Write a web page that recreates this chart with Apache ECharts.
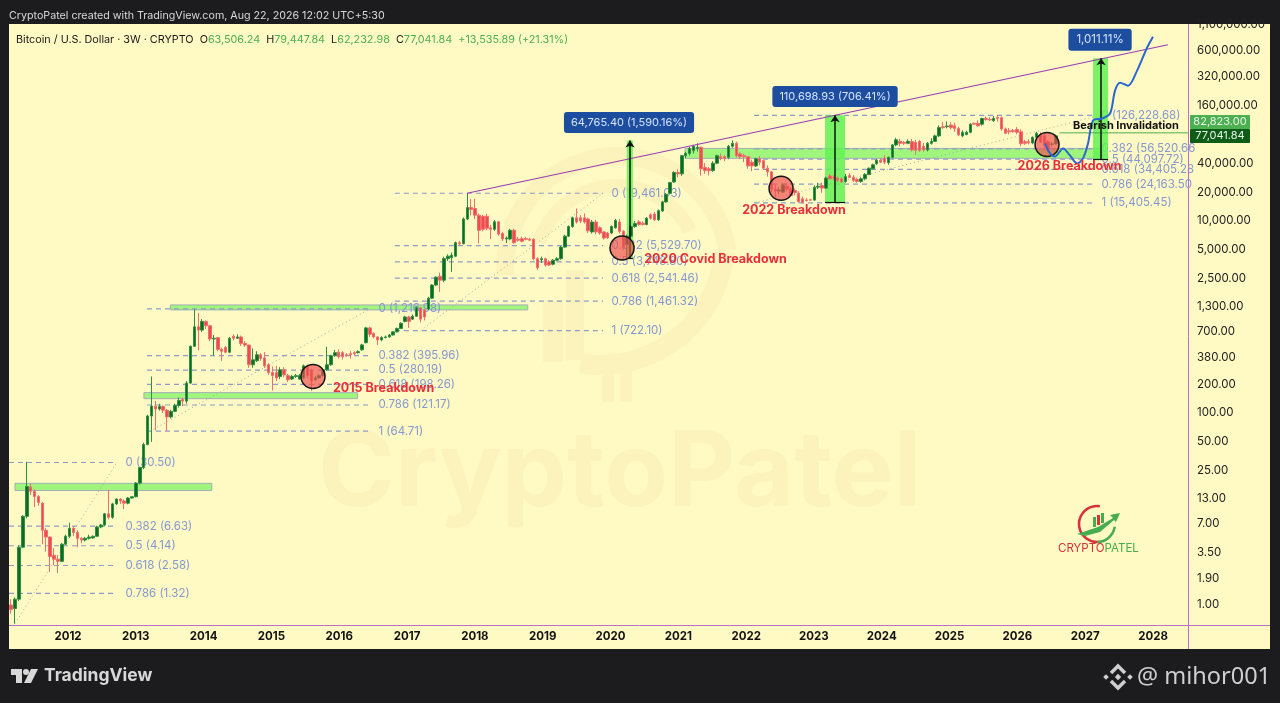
<!DOCTYPE html>
<html><head><meta charset="utf-8">
<style>html,body{margin:0;padding:0;background:#1c1c1e}#c{width:1280px;height:703px}</style>
<script src="https://cdn.jsdelivr.net/npm/echarts@6/dist/echarts.min.js"></script>
</head><body><div id="c"></div>
<script>
// Candles: [open, close, low, high], one row per 3-week bar
const candles2011_2013 = [
[1.0,.9,.81,1.15],[.92,1.15,.64,1.2],[1.15,4.0,1.1,4.2],[4.0,8.4,3.9,8.6],[8.4,17.2,8,31],[17,15.3,14,18.5],[15.3,13.5,10.5,16],[13.5,11.7,10.8,14],
[11.5,6.0,4.3,11.8],[6,5.1,3.6,6.3],[5.1,3.2,2.2,5.2],[3.3,3.0,2.6,3.9],[3.0,2.85,2.15,3.3],[2.85,4.3,2.8,4.4],[4.3,5.2,4.2,5.4],[5.2,6.3,5,7.2],
[6.3,5.7,5.2,6.6],[5.7,4.95,4.0,6],[4.95,4.75,4.4,5.1],[4.75,4.95,4.6,5.1],[4.95,5.1,4.8,5.4],[5.0,5.2,4.9,5.3],[5.2,6.5,5.1,6.7],[6.5,6.8,6.3,7],
[6.8,8.9,6.6,9.1],[8.9,8.2,7.8,15.8],[8.2,11.3,7.9,11.6],[11.3,12.7,11,12.9],[12.7,12.1,11.3,13],[12.1,11.5,10,12.6],[11.5,13,11.2,13.3],[13,13.4,12.8,13.6],
[13.4,18.6,13.2,19],[18.6,27,18,27.5],[27,47,26,49],[47,93,46,96],[93,118,50,240],[118,110,66,133],[110,117,106,125],[117,107,100,120],
[107,91,65,110],[91,104,88,108],[104,120,102,125],[120,135,114,145],[138,133,118,145],[133,205,125,215],[205,495,200,505],[495,790,490,1200]
];
const candles2014_2016 = [
[790,730,450,1100],[730,900,700,950],[900,810,750,920],[810,590,560,830],[590,600,395,650],[610,460,440,620],[460,440,350,480],[480,430,420,500],
[430,600,420,620],[630,600,570,660],[600,620,590,660],[620,530,500,640],[530,510,490,560],[510,318,296,515],[318,358,296,470],[350,404,340,440],
[404,370,350,420],[375,310,295,430],[318,264,250,330],[264,245,172,305],[264,232,215,310],[240,282,225,300],[282,250,235,300],[245,222,210,255],
[226,240,220,250],[240,245,232,255],[226,245,222,255],[232,310,225,320],[305,245,230,320],[275,215,170,290],[222,232,215,245],[232,245,228,255],
[245,282,240,290],[282,318,275,490],[318,395,310,405],[395,425,385,455],[430,385,370,460],[425,385,360,440],[404,395,385,420],[415,404,370,440],
[425,415,400,440],[425,435,415,450],[455,512,445,525],[540,770,530,790],[770,660,620,790],[675,620,600,690],[620,577,510,630],[577,610,560,630],
[610,620,600,640],[620,650,610,665],[650,700,640,715],[700,760,690,775]
];
const candles2017_2019 = [
[760,860,750,880],[900,1000,880,1030],[1000,900,770,1030],[950,1020,930,1060],[1020,1245,1000,1290],[1245,950,880,1280],[1183,1000,920,1210],[1210,1570,1180,1620],
[1570,2150,1550,2200],[2150,2600,2100,2650],[2650,2420,1830,2900],[2420,4050,2300,4250],[4050,4300,3850,4500],[4150,4400,2950,4700],[4300,5950,4200,6100],[5950,5800,5500,6200],
[5800,10500,5700,10900],[10500,13800,10200,19400],[13800,13200,11500,16900],[13500,11500,10500,17000],[11500,8000,5850,11900],[11200,8200,7800,11600],[11200,8400,8000,11900],[8500,8200,6500,9100],
[8200,9800,7900,10200],[9800,7300,7000,10000],[7400,6500,6200,7700],[6500,6650,5900,6900],[6500,8000,6300,8300],[8000,5950,5800,8300],[6450,6300,6100,6800],[6550,6150,6000,6900],
[6550,6450,6300,6800],[6450,6300,6200,6700],[6450,4050,3900,6600],[4050,3250,3100,4200],[3950,4050,3650,4250],[4050,3480,3350,4150],[3750,3480,3400,3900],[3550,3900,3450,4000],
[3900,4050,3800,4200],[4050,5350,3950,5500],[5350,6950,5250,7200],[6950,8750,6800,9000],[8750,10800,8500,11100],[10800,9750,9400,13500],[10800,10000,9500,11500],[10800,9750,9400,12000],
[10500,7900,7500,10800],[7700,9750,7400,10200],[9750,7700,7300,10300],[8500,7500,7200,8800],[7700,6650,6400,7800],[7500,6700,6500,7700]
];
const candles2020_2022 = [
[7500,8750,7300,9000],[8500,10100,8300,10500],[9750,7800,7400,10500],[7800,5300,4950,8000],[5700,6950,3980,7200],[6950,8750,6800,9000],[8750,9400,8500,10000],[9800,9200,8900,10200],
[9500,9200,9000,9900],[9200,10700,9000,11000],[11600,10700,10300,12000],[11800,10300,10000,12400],[10300,12800,10000,13200],[12700,15800,12400,16200],[15800,19000,15500,19500],[19400,25100,19000,25500],
[25500,32000,25000,33000],[32000,31000,28500,34500],[31000,47900,29500,48500],[47900,50500,45000,52500],[50500,57000,48000,59000],[54000,60000,50500,62000],[57000,58500,53000,64500],[58500,35000,29700,59500],
[36000,33500,31000,40000],[35000,33500,29800,36500],[33500,40000,32500,42000],[40000,47900,39000,49000],[46800,44700,43000,50500],[46800,44700,42000,48500],[46000,60000,44000,62000],[60000,64500,58000,69000],
[64500,47900,46000,67000],[50000,46800,44000,52000],[48000,46800,41000,50000],[46800,37500,35000,47500],[41000,37500,33000,43500],[37500,44500,36500,45500],[44500,41000,38000,47500],[42500,35500,34000,43500],
[35500,32500,29000,38000],[32500,21500,20000,33000],[21500,20500,17700,24000],[20500,21000,19000,22500],[20000,23700,19500,24500],[23000,21500,20500,25000],[21500,18400,18000,22500],[20800,19800,18500,21800],
[19500,15900,15500,20500],[17000,15500,15480,18000]
];
const candles2023_2026 = [
[16500,16300,15900,17300],[16600,16500,16300,17000],[16500,22500,16300,23500],[22500,23000,21500,25000],[23400,22000,19700,25200],[22000,28000,21500,29000],[29500,27500,27000,31000],[28500,28000,26500,30000],
[28000,26500,25500,29000],[27500,25500,24900,28500],[25800,29000,25000,31000],[29700,28500,28000,31500],[28500,26500,25500,30000],[27000,25800,25000,28000],[25800,27500,25000,28500],[27500,30500,26500,31500],
[30500,35500,30000,36000],[35000,38500,34500,39500],[39500,43000,38500,44500],[43000,41000,40000,45000],[44700,41000,39000,48500],[40500,46000,38500,47000],[46000,62000,45000,63000],[62000,70000,60000,73500],
[67500,64500,60000,72000],[66000,64500,62000,68000],[64500,67500,63000,71000],[67000,55000,53000,71500],[66000,54500,49000,70000],[67500,54500,52500,70000],[60000,55000,53000,65000],[55000,64500,53000,66500],
[64500,67500,62500,73000],[67500,77000,66500,79500],[77000,94000,75000,99000],[96000,94000,91000,108000],[96000,97500,92000,109000],[100000,94000,90000,107000],[98000,92000,85000,106000],[92000,79000,76500,96000],
[77000,84000,74500,88000],[79500,84000,78000,87000],[84000,102000,82000,104000],[104000,102000,100000,106000],[104000,98000,96000,112000],[102000,117000,98500,119000],[117000,114000,111000,123000],[114000,113000,110000,120000],
[111000,117000,108000,124000],[120000,117000,109000,126228],[119000,91000,87000,123000],[91000,82000,80500,94000],[87000,85000,80000,93000],[87500,85500,83000,91000],[90000,84000,80000,95000],[85000,64000,60000,90000],
[67000,64500,62000,70000],[67000,65500,62800,71000],[65000,74500,63000,76000],[74500,82000,72000,85000],[78000,66000,65000,84000],[78000,61000,58000,80000],[67000,54500,52000,70000],[63000,63506,60000,66000],
[63506.24,77041.84,62232.98,79447.84]
];
const lastBarYear = 2026.57, barYears = 3/52.18;
const yearTicks = [2012,2013,2014,2015,2016,2017,2018,2019,2020,2021,2022,2023,2024,2025,2026,2027,2028];
const priceTicks = [1,1.9,3.5,7,13,25,50,100,200,380,700,1300,2500,5000,10000,20000,40000,160000,320000,600000,1100000];

// Fibonacci levels: [label, price]
const fib2011 = [['0 (30.50)',30.5],['0.382 (6.63)',6.63],['0.5 (4.14)',4.14],['0.618 (2.58)',2.58],['0.786 (1.32)',1.32]];
const fib2013 = [['0 (1,216.98)',1216.98],['0.382 (395.96)',395.96],['0.5 (280.19)',280.19],['0.618 (198.26)',198.26],['0.786 (121.17)',121.17],['1 (64.71)',64.71]];
const fib2017 = [['0 (19,461.03)',19461.03],['0.382 (5,529.70)',5529.7],['0.5 (3,748.80)',3748.8],['0.618 (2,541.46)',2541.46],['0.786 (1,461.32)',1461.32],['1 (722.10)',722.1]];
const fib2021 = [['0 (126,228.68)',126228.68],['0.382 (56,520.66',56520.66],['0.5 (44,097.72)',44097.72],['0.618 (34,405.28',34405.28],['0.786 (24,163.50',24163.5],['1 (15,405.45)',15405.45]];
// [levels, line start year, line end year, label year]
const fibSets = [[fib2011,2011.13,2012.664,2012.84],[fib2013,2013.165,2016.454,2016.57],[fib2017,2016.82,2019.89,2020.007],[fib2021,2022.117,2027.16,2027.234]];
// dotted fib diagonals: [[year,price],[year,price]]
const fibDiagonals = [[[2011.218,.64],[2012.72,30.5]],[[2013.21,64.71],[2016.454,1217]],[[2017.2,722.1],[2019.89,19461]],[[2022.13,15405],[2027.22,126228]]];
// support zones: [year start, year end, price low, price high]
const zones = [[2011.218,2014.12,15.6,18.5],[2013.12,2016.27,141,163],[2013.51,2018.78,1186,1335],[2021.1,2027.25,44900,57000]];
// measured moves: [year start, year end, arrow year, price from, price to]
const moves = [[2020.24,2020.33,2020.288,4073,68838],[2023.163,2023.458,2023.311,15670,126369],[2027.116,2027.337,2027.234,44100,497000]];
const moveLabels = [[2020.273,106000,'64,765.40 (1,590.16%)'],[2023.311,197700,'110,698.93 (706.41%)']];
const moveLabelTop = [[2027.219,773000,'1,011.11%']];
const channel = [[2017.884,19461],[2028.22,685000]];
const invalidationLevel = [[2026.62,82823],[2028.516,82823]];
const projection = [[2026.408,64300],[2026.481,50600],[2026.555,47100],[2026.673,57000],[2026.776,48200],[2026.88,39800],[2026.968,44900],[2027.042,64300],[2027.116,111400],[2027.249,116800],[2027.367,131600],[2027.44,228000],[2027.514,276000],[2027.632,257000],[2027.765,368000],[2027.912,638000],[2028.0,830000]];
const breakdownCircles = [[2015.613,240],[2020.17,5240],[2022.515,21900],[2026.437,62700]];
const breakdownLabels = [[2016.653,179,'2015 Breakdown'],[2021.549,4012,'2020 Covid Breakdown'],[2022.706,12950,'2022 Breakdown'],[2026.769,37100,'2026 Breakdown']];
const invalidationLabel = [[2027.6,98900,'Bearish Invalidation']];

const FONT = 'Inter';
const candles = [].concat(candles2011_2013,candles2014_2016,candles2017_2019,candles2020_2022,candles2023_2026);
const candleData = candles.map((c,i)=>[lastBarYear-(candles.length-1-i)*barYears,c[0],c[1],c[2],c[3]]);
const series = [];
function textSeries(data,z,label){
  series.push({type:'scatter',data,symbolSize:1,z,silent:true,itemStyle:{color:'transparent',opacity:1},
    label:Object.assign({show:true,fontFamily:FONT,formatter:p=>p.value[2]},label)});
}
// zones
series.push({type:'line',data:[],markArea:{z:1,silent:true,data:zones.map(z=>[
  {coord:[z[0],z[2]],itemStyle:{color:'#a0f57c',opacity:1,borderColor:'#a3adb8',borderWidth:1}},{coord:[z[1],z[3]]}])}});
// fib dashed levels + labels
fibSets.forEach(set=>{
  set[0].forEach(l=>series.push({type:'line',z:2,silent:true,showSymbol:false,data:[[set[1],l[1]],[set[2],l[1]]],lineStyle:{color:'#8f9dc6',width:1.2,type:[5,4]}}));
  textSeries(set[0].map(l=>[set[3],l[1],l[0]]),2,{position:'right',distance:0,color:'#8398d2',fontSize:11.5});
});
fibDiagonals.forEach(d=>series.push({type:'line',z:2,silent:true,showSymbol:false,data:d,lineStyle:{color:'#a8a8a0',width:1,type:[1,3]}}));
// measured-move rectangles
series.push({type:'line',data:[],markArea:{z:2.8,silent:true,data:moves.map(m=>[
  {coord:[m[0],m[3]],itemStyle:{color:'#62f255',opacity:.85}},{coord:[m[1],m[4]]}])}});
// candles
series.push({type:'candlestick',z:3,silent:true,data:candleData,encode:{x:0,y:[1,2,3,4]},barWidth:3,
  itemStyle:{color:'#0e6b22',color0:'#ee4b4b',borderColor:'#2f8f42',borderColor0:'#f26d6d',borderWidth:1}});
// channel + invalidation
series.push({type:'line',z:3.5,silent:true,showSymbol:false,data:channel,lineStyle:{color:'#9b3fb5',width:1.2}});
series.push({type:'line',z:3.5,silent:true,showSymbol:false,data:invalidationLevel,lineStyle:{color:'#4caf50',width:1}});
// arrows
moves.forEach(m=>{
  series.push({type:'line',data:[],markLine:{z:4,silent:true,animation:false,label:{show:false},data:[
    [{coord:[m[2],m[3]],symbol:'none',lineStyle:{color:'#111',width:1.5,type:'solid'}},{coord:[m[2],m[4]],symbol:'arrow',symbolSize:7}],
    [{coord:[m[0],m[3]],symbol:'none',lineStyle:{color:'#111',width:1.2,type:'solid'}},{coord:[m[1],m[3]],symbol:'none'}]
  ]}});
});
// breakdown circles
series.push({type:'scatter',z:5,silent:true,data:breakdownCircles,symbolSize:24,itemStyle:{color:'rgba(238,80,80,.68)',borderColor:'#151515',borderWidth:1.5,opacity:1}});
// projection
series.push({type:'line',z:6,silent:true,showSymbol:false,smooth:.3,data:projection,lineStyle:{color:'#2a67d0',width:2}});
textSeries(breakdownLabels,7,{position:'inside',color:'#e92f3b',fontWeight:'bold',fontSize:12.5});
textSeries(invalidationLabel,7,{position:'inside',color:'#111',fontWeight:'bold',fontSize:11});
textSeries(moveLabels,8,{position:'inside',color:'#d6e4ff',fontSize:11,backgroundColor:'#1d4d9f',borderRadius:3,padding:[5,7]});
textSeries(moveLabelTop,8,{position:'inside',color:'#d6e4ff',fontSize:11.5,backgroundColor:'#1d4d9f',borderRadius:3,padding:[5,8]});

// decorative page furniture
const WM = '#fbf3bb';
const txt = (x,y,text,font,fill,align)=>({x,y,text,font,fill,align:align||'left',verticalAlign:'middle'});
const g = [
 {type:'rect',z:-10,shape:{x:9,y:24,width:1261,height:625},style:{fill:'#fff9c4'}},
 {type:'arc',z:-9,shape:{cx:617,cy:268,r:112,r0:0,startAngle:Math.PI*.98,endAngle:Math.PI*1.95},style:{stroke:WM,fill:null,lineWidth:18,lineCap:'butt'}},
 {type:'arc',z:-9,shape:{cx:617,cy:268,r:82,startAngle:Math.PI*1.1,endAngle:Math.PI*1.85},style:{stroke:WM,fill:null,lineWidth:14}},
 {type:'arc',z:-9,shape:{cx:600,cy:240,r:125,startAngle:Math.PI*.03,endAngle:Math.PI*.55},style:{stroke:WM,fill:null,lineWidth:20}},
 {type:'rect',z:-9,shape:{x:543,y:300,width:20,height:62},style:{fill:WM}},
 {type:'rect',z:-9,shape:{x:566,y:270,width:18,height:90},style:{fill:WM}},
 {type:'rect',z:-9,shape:{x:602,y:372,width:12,height:30},style:{fill:WM}},
 {type:'rect',z:-9,shape:{x:620,y:372,width:12,height:30},style:{fill:WM}},
 {type:'text',z:-9,style:txt(318,475,'CryptoPatel','bold 104px '+FONT,WM)},
 {type:'line',z:20,shape:{x1:1188.5,y1:24,x2:1188.5,y2:649},style:{stroke:'#b96fcc',lineWidth:1}},
 {type:'line',z:20,shape:{x1:9,y1:625.5,x2:1270,y2:625.5},style:{stroke:'#b96fcc',lineWidth:1}},
 {type:'text',z:20,style:txt(9,16,'CryptoPatel created with TradingView.com, Aug 22, 2026 12:02 UTC+5:30','10.7px '+FONT,'#d9d9d9')},
 {type:'text',z:20,style:Object.assign(txt(16,40,'{k|Bitcoin / U.S. Dollar · 3W · CRYPTO}  {k|O}{g|63,506.24}  {k|H}{g|79,447.84}  {k|L}{g|62,232.98}  {k|C}{g|77,041.84}  {g|+13,535.89 (+21.31%)}','10.8px '+FONT,'#1a1a1a'),
   {rich:{k:{fill:'#1a1a1a',fontFamily:FONT,fontSize:10.8},g:{fill:'#4caf50',fontFamily:FONT,fontSize:10.8}}})},
 // price badges
 {type:'rect',z:20,shape:{x:1190,y:115,width:60,height:14,r:1},style:{fill:'#4caf50'}},
 {type:'rect',z:20,shape:{x:1190,y:129,width:60,height:14,r:1},style:{fill:'#0e5c16'}},
 {type:'text',z:21,style:txt(1220,122,'82,823.00','11px '+FONT,'#e8f5e9','center')},
 {type:'text',z:21,style:txt(1220,136,'77,041.84','11px '+FONT,'#e8f5e9','center')},
 // brand logo
 {type:'arc',z:10,shape:{cx:1097,cy:524,r:18,startAngle:Math.PI*.45,endAngle:Math.PI*1.55,clockwise:true},style:{stroke:'#d9303a',fill:null,lineWidth:2.5}},
 {type:'polygon',z:10,shape:{points:[[1077,534],[1098,527],[1113,518],[1110,515],[1120,513],[1116,522],[1114,520],[1100,532],[1085,536]]},style:{fill:'#45ad4e'}},
 {type:'arc',z:10,shape:{cx:1097,cy:524,r:18,startAngle:Math.PI*.05,endAngle:Math.PI*.5},style:{stroke:'#45ad4e',fill:null,lineWidth:2.5}},
 {type:'rect',z:10,shape:{x:1093,y:517,width:3,height:10},style:{fill:'#45ad4e'}},
 {type:'rect',z:10,shape:{x:1097,y:515,width:3,height:10},style:{fill:'#d9303a'}},
 {type:'rect',z:10,shape:{x:1101,y:513,width:3,height:10},style:{fill:'#45ad4e'}},
 {type:'text',z:10,style:Object.assign(txt(1058,549,'{r|CRYPTO}{g|PATEL}','11.5px '+FONT,'#d9303a'),{rich:{r:{fill:'#d9303a',fontFamily:FONT,fontSize:11.5},g:{fill:'#45ad4e',fontFamily:FONT,fontSize:11.5}}})},
 // footer
 {type:'rect',z:20,shape:{x:11,y:669,width:11,height:6},style:{fill:'#d8d8d8'}},
 {type:'rect',z:20,shape:{x:16,y:675,width:6,height:8},style:{fill:'#d8d8d8'}},
 {type:'circle',z:20,shape:{cx:26,cy:672,r:3},style:{fill:'#d8d8d8'}},
 {type:'polygon',z:20,shape:{points:[[31,669],[38,669],[31,683],[24,683]]},style:{fill:'#d8d8d8'}},
 {type:'text',z:20,style:txt(44,676,'TradingView','700 17.5px '+FONT,'#d8d8d8')},
 {type:'text',z:20,style:txt(1137,677,'@ mihor001','23.5px "Noto Sans"','#cfcfcf')},
 // exchange-style mark
 {type:'polyline',z:20,shape:{points:[[1111,673],[1118,666],[1125,673]]},style:{stroke:'#cfcfcf',fill:null,lineWidth:3.5}},
 {type:'polyline',z:20,shape:{points:[[1111,681],[1118,688],[1125,681]]},style:{stroke:'#cfcfcf',fill:null,lineWidth:3.5}}
];
[[1106,677,2.8],[1130,677,2.8],[1118,677,3.2]].forEach(p=>{
  g.push({type:'polygon',z:20,shape:{points:[[p[0],p[1]-p[2]],[p[0]+p[2],p[1]],[p[0],p[1]+p[2]],[p[0]-p[2],p[1]]]},style:{fill:'#cfcfcf'}});
});

const chart = echarts.init(document.getElementById('c'),null,{renderer:'canvas',width:1280,height:703});
chart.setOption({
  animation:false,backgroundColor:'#1c1c1e',
  grid:{left:9,right:92,top:24,bottom:78,show:false},
  xAxis:{type:'value',min:2011.13,max:2028.516,splitLine:{show:false},axisLine:{show:false},axisTick:{show:false},
    axisLabel:{customValues:yearTicks,formatter:v=>String(v),color:'#131313',fontWeight:'bold',fontSize:11.5,fontFamily:FONT,margin:6}},
  yAxis:{type:'log',logBase:10,position:'right',min:.619,max:1127000,splitLine:{show:false},axisLine:{show:false},axisTick:{show:false},
    axisLabel:{customValues:priceTicks,formatter:v=>Number(v).toLocaleString('en-US',{minimumFractionDigits:2,maximumFractionDigits:2}),color:'#222',fontSize:11.5,fontFamily:FONT,margin:9}},
  tooltip:{show:false},legend:{show:false},
  graphic:{elements:g},
  series
});
</script></body></html>
